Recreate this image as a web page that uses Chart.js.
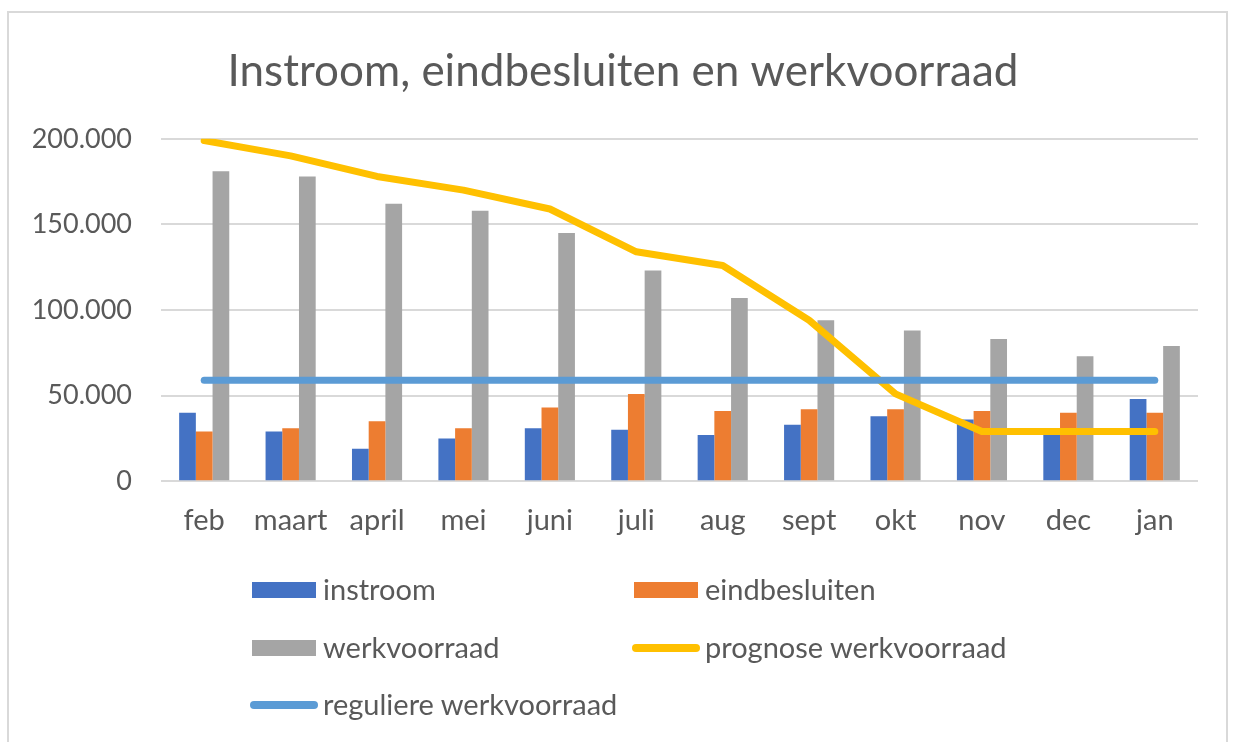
<!DOCTYPE html>
<html>
<head>
<meta charset="utf-8">
<script src="https://cdn.jsdelivr.net/npm/chart.js@4"></script>
<style>
  html, body { margin: 0; padding: 0; background: #fff; }
  #wrap { position: relative; width: 1233px; height: 742px; overflow: hidden; }
  #frame { position: absolute; left: 7px; top: 11px; width: 1221px; height: 800px;
           border: 2px solid #d9d9d9; box-sizing: border-box; }
  canvas { position: absolute; left: 0; top: 0; }
  .lg { position: absolute; font-family: Lato, sans-serif; font-size: 29px; color: #595959;
        line-height: 32px; white-space: nowrap; }
  .mk { position: absolute; }
</style>
</head>
<body>
<div id="wrap">
  <div id="frame"></div>
  <canvas id="myChart" width="1233" height="742"></canvas>
  <div id="legend"></div>
</div>
<script>
const months = ['feb', 'maart', 'april', 'mei', 'juni', 'juli', 'aug', 'sept', 'okt', 'nov', 'dec', 'jan'];
const instroom = [40000, 29000, 19000, 25000, 31000, 30000, 27000, 33000, 38000, 36000, 29000, 48000];
const eindbesluiten = [29000, 31000, 35000, 31000, 43000, 51000, 41000, 42000, 42000, 41000, 40000, 40000];
const werkvoorraad = [181000, 178000, 162000, 158000, 145000, 123000, 107000, 94000, 88000, 83000, 73000, 79000];
const prognose = [199000, 190000, 178000, 170000, 159000, 134000, 126000, 94000, 51000, 29000, 29000, 29000];
const regulier = [59000, 59000, 59000, 59000, 59000, 59000, 59000, 59000, 59000, 59000, 59000, 59000];

const grey = '#595959';

function fmt(v) {
  return String(v).replace(/\B(?=(\d{3})+(?!\d))/g, '.');
}

const data = {
  labels: months,
  datasets: [
    { type: 'bar', label: 'instroom', data: instroom, backgroundColor: '#4472C4', order: 3 },
    { type: 'bar', label: 'eindbesluiten', data: eindbesluiten, backgroundColor: '#ED7D31', order: 3 },
    { type: 'bar', label: 'werkvoorraad', data: werkvoorraad, backgroundColor: '#A5A5A5', order: 3 },
    { type: 'line', label: 'prognose werkvoorraad', data: prognose, borderColor: '#FFC000',
      borderWidth: 7, pointRadius: 0, borderCapStyle: 'round', borderJoinStyle: 'round', tension: 0, order: 2 },
    { type: 'line', label: 'reguliere werkvoorraad', data: regulier, borderColor: '#5B9BD5',
      borderWidth: 7, pointRadius: 0, borderCapStyle: 'round', tension: 0, order: 1 }
  ]
};

const config = {
  type: 'bar',
  data,
  options: {
    responsive: false,
    animation: false,
    layout: { padding: { left: 13, right: 0, top: 0, bottom: 182 } },
    datasets: { bar: { categoryPercentage: 0.58, barPercentage: 1 } },
    plugins: {
      legend: { display: false },
      tooltip: { enabled: false },
      title: {
        display: true,
        text: 'Instroom, eindbesluiten en werkvoorraad',
        color: grey,
        font: { family: 'Lato', size: 44, weight: 'normal' },
        padding: { top: 45, bottom: 41 }
      }
    },
    scales: {
      x: {
        grid: { display: false, drawTicks: false },
        border: { display: false },
        ticks: { color: grey, font: { family: 'Lato', size: 29 }, padding: 22, maxRotation: 0 }
      },
      y: {
        min: 0, max: 200000,
        grid: { color: '#d9d9d9', lineWidth: 2, drawTicks: false },
        border: { display: false },
        afterFit(scale) { scale.width = 148; },
        ticks: { stepSize: 50000, color: grey, font: { family: 'Lato', size: 27 }, padding: 29,
                 callback: v => fmt(v) }
      },
      // empty right-hand margin
      yRight: {
        position: 'right',
        min: 0, max: 200000,
        grid: { display: false, drawTicks: false },
        border: { display: false },
        ticks: { display: false },
        afterFit(scale) { scale.width = 35; }
      }
    }
  }
};

const myChart = new Chart(document.getElementById('myChart'), config);

// legend in two columns, like the original
const legendItems = [
  { text: 'instroom', kind: 'box', color: '#4472C4', x: 252, y: 590 },
  { text: 'eindbesluiten', kind: 'box', color: '#ED7D31', x: 634, y: 590 },
  { text: 'werkvoorraad', kind: 'box', color: '#A5A5A5', x: 252, y: 648 },
  { text: 'prognose werkvoorraad', kind: 'line', color: '#FFC000', x: 632, y: 648 },
  { text: 'reguliere werkvoorraad', kind: 'line', color: '#5B9BD5', x: 250, y: 705 }
];
const legend = document.getElementById('legend');
legendItems.forEach(it => {
  const mk = document.createElement('div');
  mk.className = 'mk';
  if (it.kind === 'box') {
    mk.style.cssText = `left:${it.x}px;top:${it.y - 8}px;width:64px;height:16px;background:${it.color}`;
  } else {
    mk.style.cssText = `left:${it.x}px;top:${it.y - 4}px;width:68px;height:8px;border-radius:4px;background:${it.color}`;
  }
  legend.appendChild(mk);
  const t = document.createElement('div');
  t.className = 'lg';
  t.textContent = it.text;
  t.style.left = (it.kind === 'box' ? it.x + 71 : it.x + 73) + 'px';
  t.style.top = (it.y - 17) + 'px';
  legend.appendChild(t);
});
</script>
</body>
</html>
